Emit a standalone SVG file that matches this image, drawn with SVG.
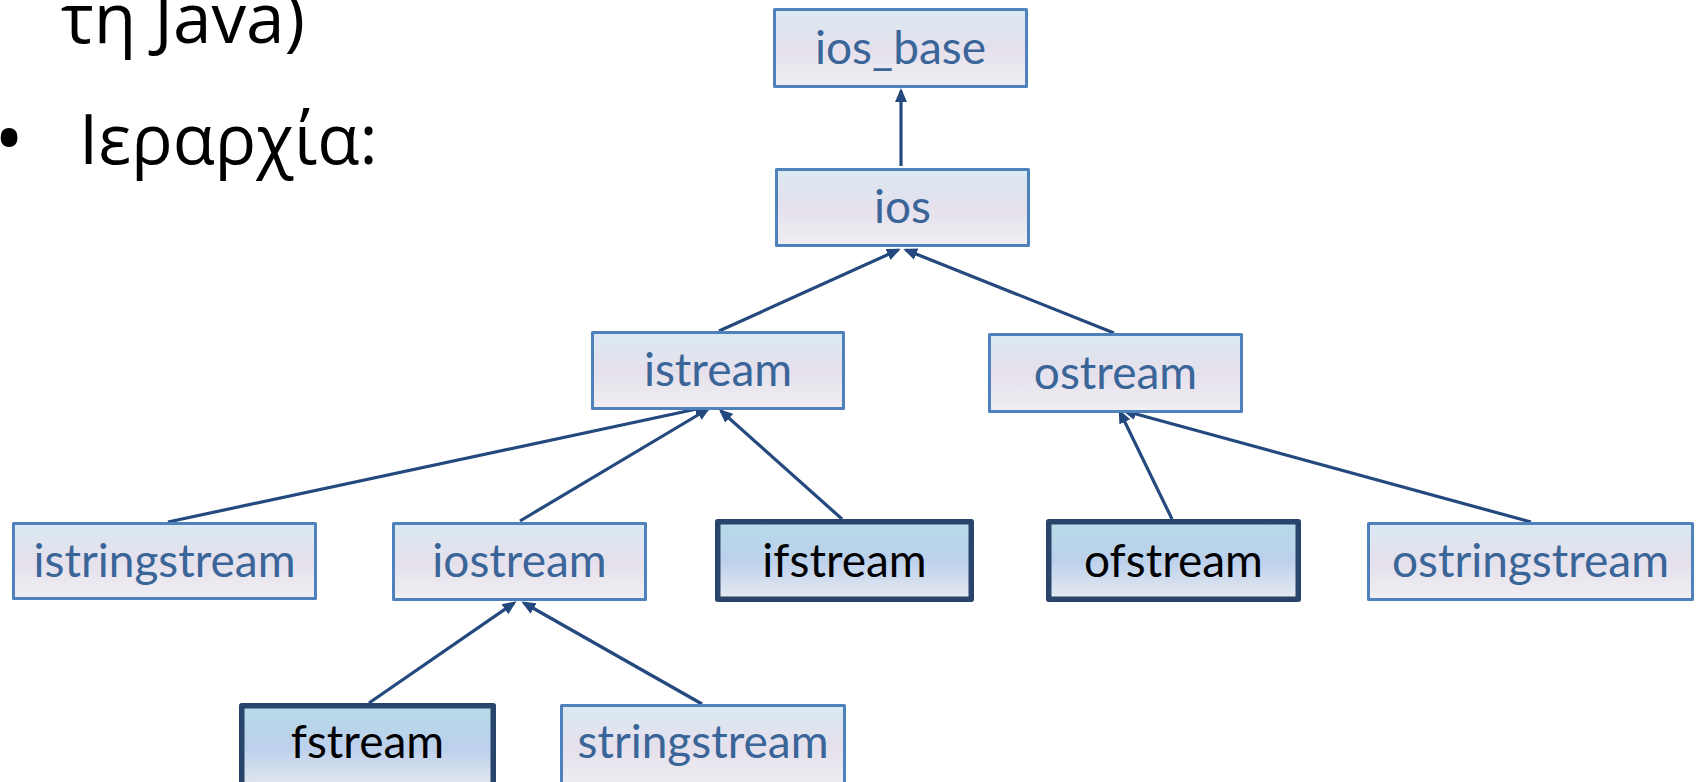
<svg xmlns="http://www.w3.org/2000/svg" width="1697" height="782" viewBox="0 0 1697 782">
  <defs>
    <linearGradient id="fillLight" x1="0" y1="0" x2="0" y2="1">
      <stop offset="0" stop-color="#dae9f2"/>
      <stop offset="0.5" stop-color="#e5e0ec"/>
      <stop offset="1" stop-color="#f0eff3"/>
    </linearGradient>
    <linearGradient id="fillDark" x1="0" y1="0" x2="0" y2="1">
      <stop offset="0" stop-color="#b5dbe7"/>
      <stop offset="0.5" stop-color="#bcd0ec"/>
      <stop offset="1" stop-color="#e7eaf0"/>
    </linearGradient>
    <marker id="arrow" markerUnits="userSpaceOnUse" markerWidth="14" markerHeight="14" viewBox="0 0 14 14" refX="11" refY="7" orient="auto">
      <path d="M0,1 L14,7 L0,13 z" fill="#24497e"/>
    </marker>
    <style>
      .box rect { stroke-linejoin: round; }
      .light rect { fill: url(#fillLight); stroke: #4f81bd; stroke-width: 3; }
      .dark rect { fill: url(#fillDark); stroke: #28446a; stroke-width: 5.5; }
      .box text { font-family: Lato, "Open Sans", sans-serif; font-size: 46px; text-anchor: middle; }
      .light text { fill: #3a6598; }
      .dark text { fill: #000000; }
      .slide { font-family: "Open Sans", "Noto Sans", sans-serif; font-size: 69px; fill: #000000; }
      #connectors line { stroke: #24497e; stroke-width: 3.2; marker-end: url(#arrow); }
    </style>
  </defs>

  <rect width="1697" height="782" fill="#ffffff"/>

  <!-- bullet text -->
  <g id="bullet-text">
    <text class="slide" x="61" y="43" textLength="244" lengthAdjust="spacingAndGlyphs">τη Java)</text>
    <text class="slide" x="-6" y="167" style="font-size:80px">•</text>
    <text class="slide" x="79" y="164">Ιεραρχία:</text>
  </g>

  <!-- inheritance arrows, child -> parent -->
  <g id="connectors">
    <line x1="901" y1="166" x2="901" y2="91"/>
    <line x1="719" y1="331" x2="898" y2="250"/>
    <line x1="1114" y1="333" x2="906" y2="250"/>
    <line x1="168" y1="522" x2="706" y2="407"/>
    <line x1="520" y1="521" x2="708" y2="409"/>
    <line x1="842" y1="519" x2="721" y2="411"/>
    <line x1="1172" y1="519" x2="1120" y2="412"/>
    <line x1="1531" y1="522" x2="1125" y2="411"/>
    <line x1="369" y1="703" x2="514" y2="603"/>
    <line x1="702" y1="704" x2="524" y2="603"/>
  </g>

  <g id="ios_base" class="box light">
    <rect x="774.5" y="9.5" width="252" height="77"/>
    <text x="900.5" y="64">ios_base</text>
  </g>
  <g id="ios" class="box light">
    <rect x="776.5" y="169.5" width="252" height="76"/>
    <text x="902.5" y="223">ios</text>
  </g>
  <g id="istream" class="box light">
    <rect x="592.5" y="332.5" width="251" height="76"/>
    <text x="718" y="386">istream</text>
  </g>
  <g id="ostream" class="box light">
    <rect x="989.5" y="334.5" width="252" height="77"/>
    <text x="1115.5" y="389">ostream</text>
  </g>
  <g id="istringstream" class="box light">
    <rect x="13.5" y="523.5" width="302" height="75"/>
    <text x="164.5" y="577">istringstream</text>
  </g>
  <g id="iostream" class="box light">
    <rect x="393.5" y="523.5" width="252" height="76"/>
    <text x="519.5" y="577">iostream</text>
  </g>
  <g id="ifstream" class="box dark">
    <rect x="717.75" y="521.75" width="253.5" height="77.5"/>
    <text x="844.5" y="577">ifstream</text>
  </g>
  <g id="ofstream" class="box dark">
    <rect x="1048.75" y="521.75" width="249.5" height="77.5"/>
    <text x="1173.5" y="577">ofstream</text>
  </g>
  <g id="ostringstream" class="box light">
    <rect x="1368.5" y="523.5" width="324" height="76"/>
    <text x="1530.5" y="577">ostringstream</text>
  </g>
  <g id="fstream" class="box dark">
    <rect x="241.75" y="705.75" width="251.5" height="84"/>
    <text x="367.5" y="758">fstream</text>
  </g>
  <g id="stringstream" class="box light">
    <rect x="561.5" y="705.5" width="283" height="84"/>
    <text x="703" y="758">stringstream</text>
  </g>
</svg>
